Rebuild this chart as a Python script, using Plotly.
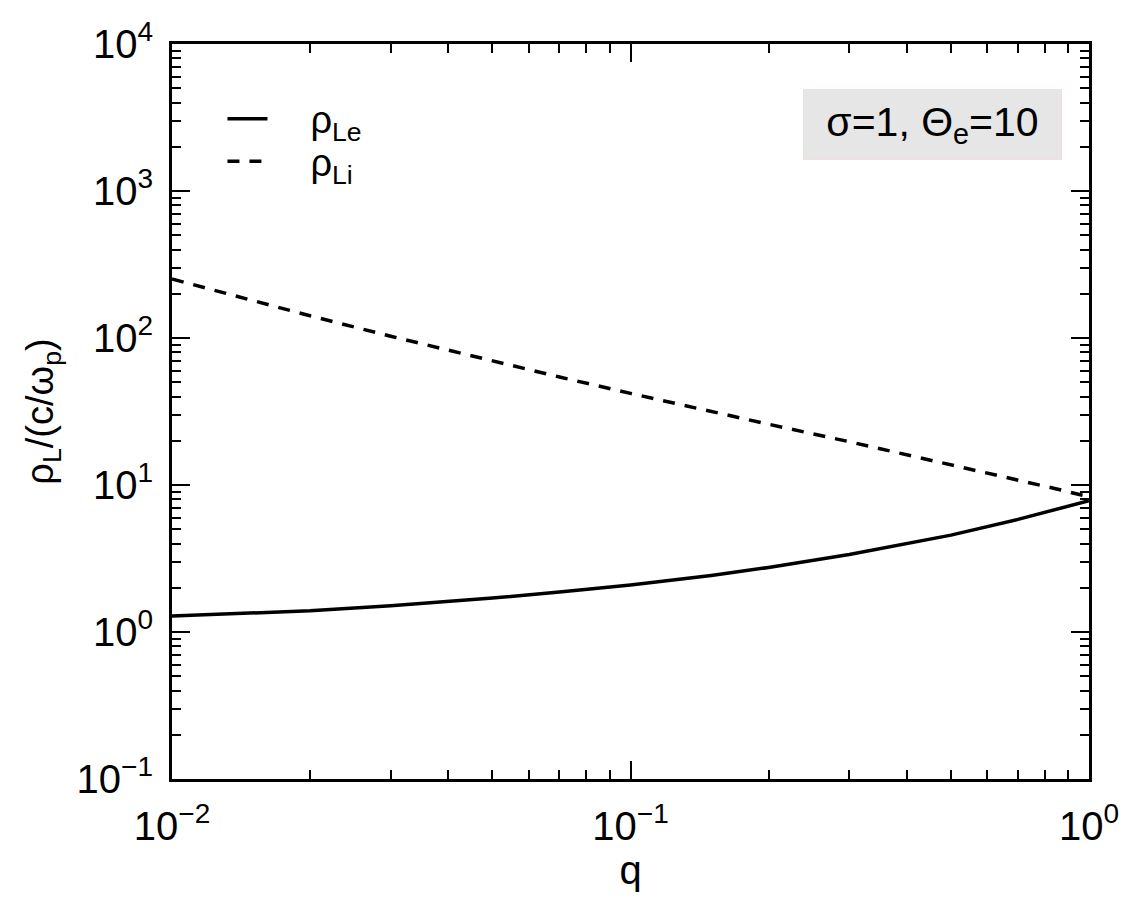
import plotly.graph_objects as go

# Data
q = [0.01, 0.015, 0.02, 0.03, 0.05, 0.07, 0.1, 0.15, 0.2, 0.3, 0.4, 0.5, 0.7, 0.85, 1.0]
rho_Le = [1.285, 1.34, 1.393, 1.507, 1.702, 1.871, 2.089, 2.427, 2.748, 3.365, 3.963, 4.56, 5.834, 6.808, 7.816]
rho_Li = [252, 179, 141.6, 102.8, 69.7, 54.3, 42.0, 31.6, 25.9, 19.7, 16.1, 13.8, 10.8, 9.4, 8.3]

x_ticks = [0.01, 0.1, 1]
x_ticktext = ["10<sup>−2</sup>", "10<sup>−1</sup>", "10<sup>0</sup>"]
y_ticks = [0.1, 1, 10, 100, 1000, 10000]
y_ticktext = ["10<sup>−1</sup>", "10<sup>0</sup>", "10<sup>1</sup>", "10<sup>2</sup>", "10<sup>3</sup>", "10<sup>4</sup>"]

x_minor = [m * 10.0 ** e for e in (-2, -1) for m in range(2, 10)]
y_minor = [m * 10.0 ** e for e in (-1, 0, 1, 2, 3) for m in range(2, 10)]

FONT = "Liberation Sans, Arial, Helvetica, sans-serif"

fig = go.Figure()
fig.add_trace(go.Scatter(x=q, y=rho_Le, mode="lines", name="\u2002\u2002ρ<sub>Le</sub>",
                         line=dict(color="black", width=3.5), legend="legend"))
fig.add_trace(go.Scatter(x=q, y=rho_Li, mode="lines", name="\u2002\u2002ρ<sub>Li</sub>",
                         line=dict(color="black", width=3.5, dash="12px,10px"), legend="legend2"))
# empty trace to make the minor-tick overlay axes render
fig.add_trace(go.Scatter(x=[], y=[], xaxis="x2", yaxis="y2", showlegend=False, hoverinfo="skip"))

axis_common = dict(
    type="log", showline=True, linecolor="black", linewidth=3, mirror="ticks",
    ticks="inside", ticklen=18, tickwidth=2, tickcolor="black",
    showgrid=False, zeroline=False,
    tickfont=dict(family=FONT, size=40, color="black"),
)

fig.update_layout(
    xaxis=dict(
        **axis_common,
        range=[-2, 0],
        tickvals=x_ticks, ticktext=x_ticktext,
        title=dict(text="q", font=dict(family=FONT, size=40, color="black"), standoff=6),
        ticklabelstandoff=10,
    ),
    yaxis=dict(
        **axis_common,
        range=[-1, 4],
        tickvals=y_ticks, ticktext=y_ticktext,
        title=dict(text="ρ<sub>L</sub>/(c/ω<sub>p</sub>)", font=dict(family=FONT, size=38, color="black"), standoff=12),
        ticklabelstandoff=8,
    ),
    xaxis2=dict(
        type="log", range=[-2, 0], overlaying="x", anchor="y2", side="bottom",
        tickvals=x_minor, ticks="inside", ticklen=9, tickwidth=2, tickcolor="black",
        showticklabels=False, showline=False, mirror="ticks", showgrid=False, zeroline=False,
    ),
    yaxis2=dict(
        type="log", range=[-1, 4], overlaying="y", anchor="x2", side="left",
        tickvals=y_minor, ticks="inside", ticklen=9, tickwidth=2, tickcolor="black",
        showticklabels=False, showline=False, mirror="ticks", showgrid=False, zeroline=False,
    ),
)

fig.add_annotation(
    xref="paper", yref="paper", x=0.829, y=0.89,
    text="σ=1, Θ<sub>e</sub>=10", showarrow=False,
    font=dict(family=FONT, size=41, color="black"),
    bgcolor="#e6e6e6", bordercolor="#f3dede", borderwidth=1,
    width=237, height=49, borderpad=10, align="center",
    xanchor="center", yanchor="middle",
)

legend_common = dict(xanchor="left", yanchor="middle", bgcolor="rgba(0,0,0,0)",
                     font=dict(family=FONT, size=38, color="black"),
                     itemwidth=40, tracegroupgap=0)

fig.update_layout(
    width=1146, height=917,
    margin=dict(l=172, r=57, t=44, b=138),
    paper_bgcolor="white", plot_bgcolor="white",
    font=dict(family=FONT, color="black"),
    showlegend=True,
    legend=dict(x=0.055, y=0.898, **legend_common),
    legend2=dict(x=0.055, y=0.840, **legend_common),
)

fig.write_html("out.html")
